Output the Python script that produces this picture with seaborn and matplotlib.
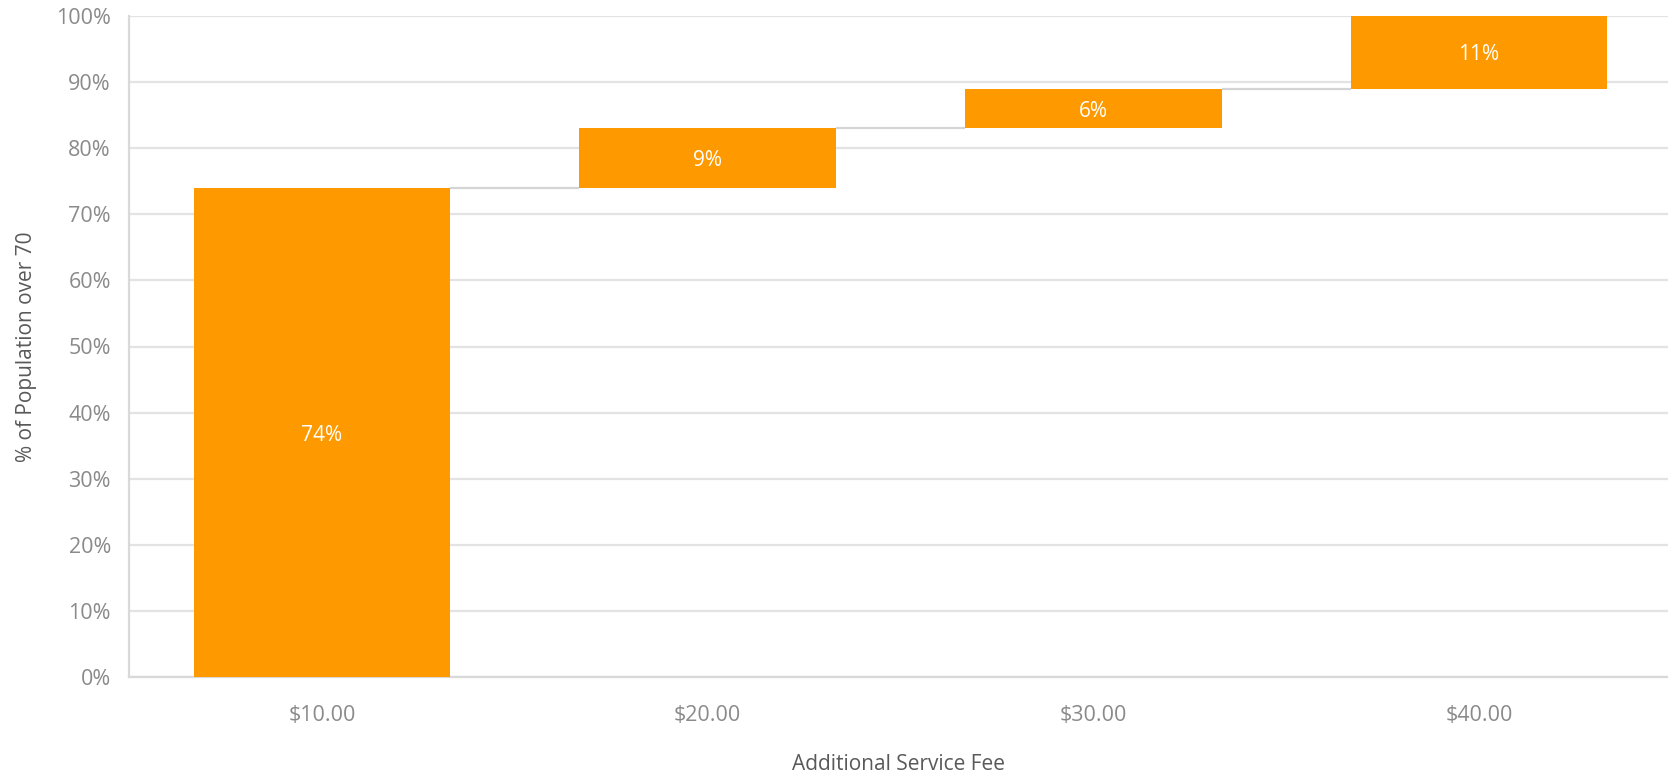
import matplotlib
matplotlib.use("Agg")
import matplotlib.pyplot as plt
import pandas as pd
import seaborn as sb
from matplotlib.ticker import PercentFormatter

fees = ["$10.00", "$20.00", "$30.00", "$40.00"]
share = [74, 9, 6, 11]

base = [0]
for v in share[:-1]:
    base.append(base[-1] + v)

df = pd.DataFrame({"fee": fees, "share": share, "base": base})

sb.set_theme(style="whitegrid")
plt.rcParams['font.family'] = ['Open Sans', 'DejaVu Sans']

orange = "#FF9900"
grid_col = "#e3e3e3"

fig = plt.figure(figsize=(16.68, 7.72), dpi=100)
ax = fig.add_axes([129 / 1668, 1 - 677 / 772, 1 - 129 / 1668, (677 - 16) / 772])

sb.barplot(data=df, x="fee", y="share", bottom=df["base"], color=orange,
           saturation=1, width=0.665, ax=ax, zorder=3, linewidth=0)

# connector lines between steps
bars = ax.patches
for i in range(len(bars) - 1):
    b0, b1 = bars[i], bars[i + 1]
    lvl = base[i] + share[i]
    ax.hlines(lvl, b0.get_x() + b0.get_width(), b1.get_x(), color="#d4d4d4",
              linewidth=1.6, zorder=2)

for b, v in zip(bars, share):
    ax.text(b.get_x() + b.get_width() / 2, b.get_y() + b.get_height() / 2 - 0.4,
            f"{v}%", ha="center", va="center", color="white", fontsize=15, zorder=4)

ax.set_ylim(0, 100)
ax.set_xlim(-0.5, 3.49)
ax.set_yticks(range(0, 101, 10))
ax.yaxis.set_major_formatter(PercentFormatter(100, decimals=0))
ax.grid(axis="y", color=grid_col, linewidth=1.6, zorder=0)
ax.grid(axis="x", visible=False)
ax.set_axisbelow(True)

for s in ["top", "right"]:
    ax.spines[s].set_visible(False)
for s in ["left", "bottom"]:
    ax.spines[s].set_color("#d9d9d9")
    ax.spines[s].set_linewidth(1.6)

ax.tick_params(axis="y", length=0, pad=13, labelsize=15.5, labelcolor="#8a8a8a")
ax.tick_params(axis="x", length=0, pad=20, labelsize=15.5, labelcolor="#8a8a8a")

ax.set_xlabel("Additional Service Fee", fontsize=15, color="#595959", labelpad=20)
ax.set_ylabel("% of Population over 70", fontsize=15, color="#595959", labelpad=14)

fig.savefig("out.png", dpi=100)
